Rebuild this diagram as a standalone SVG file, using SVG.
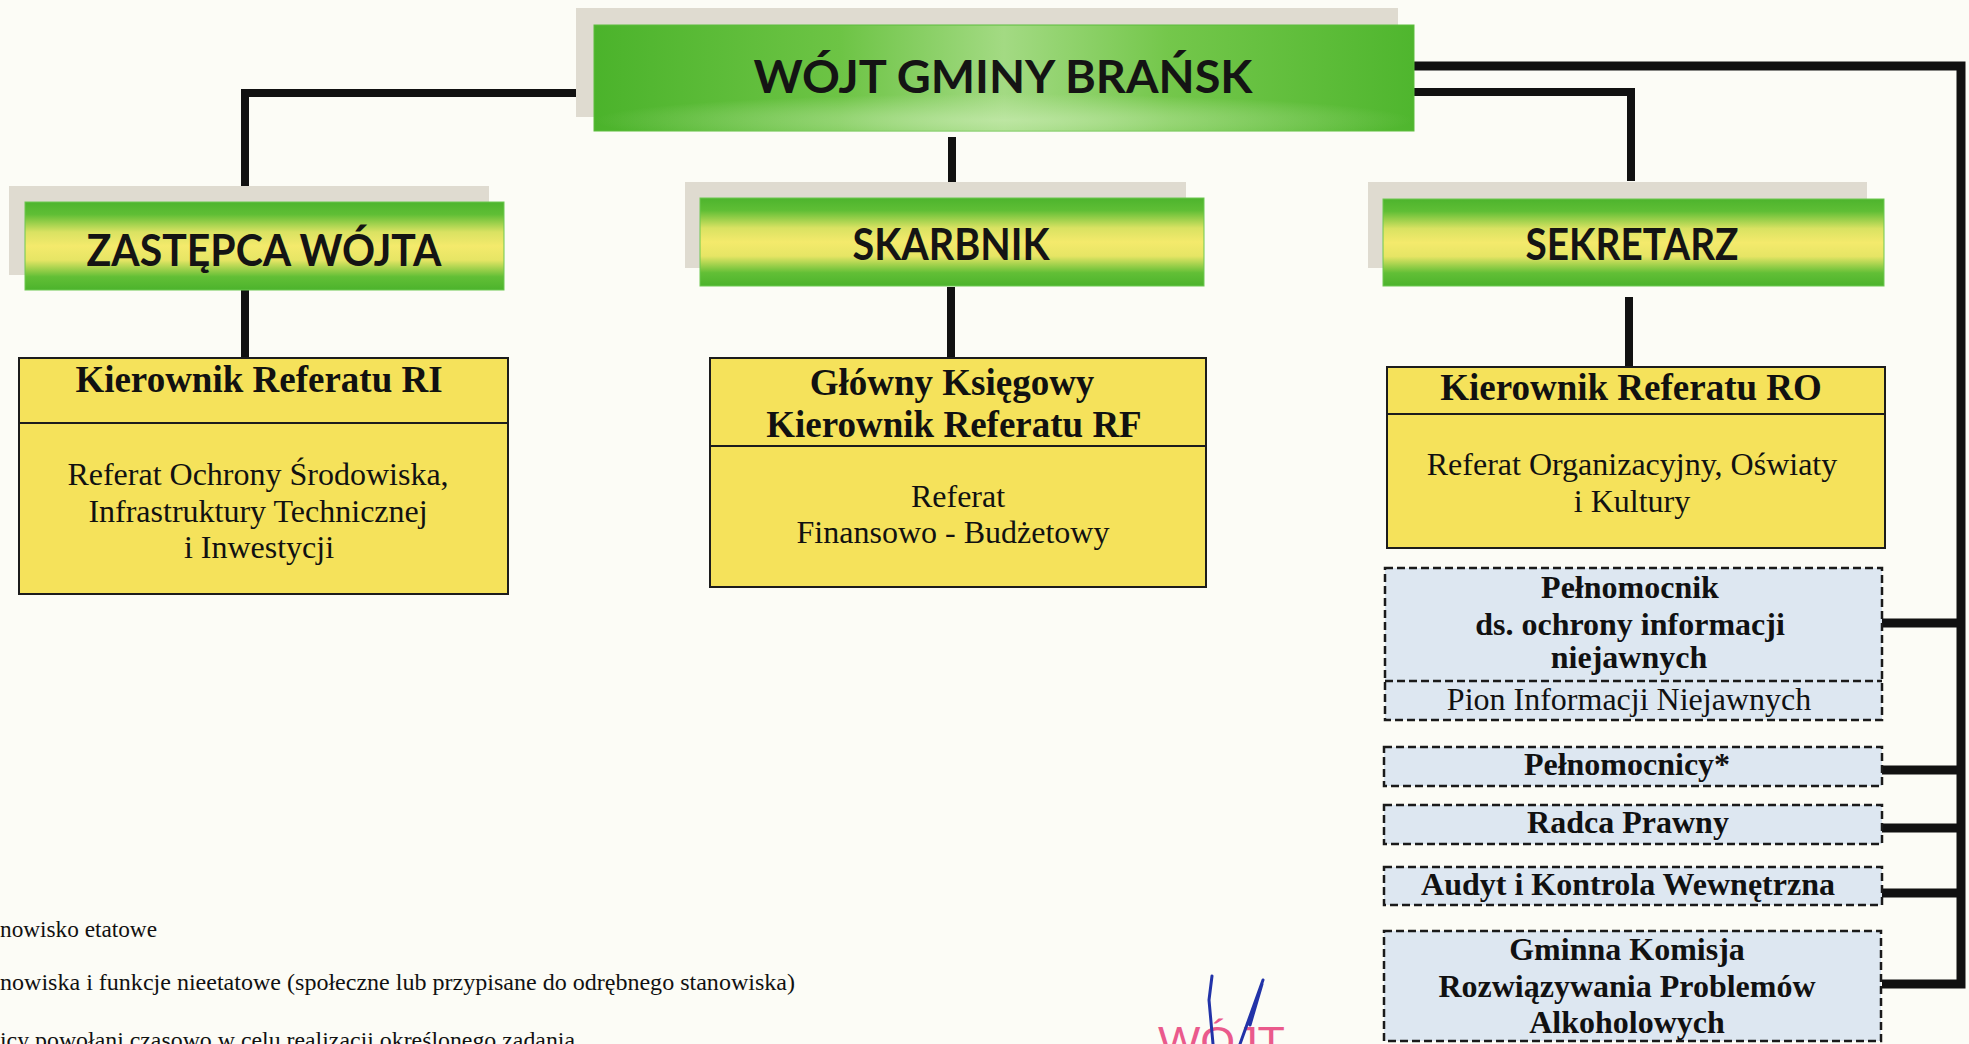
<svg xmlns="http://www.w3.org/2000/svg" width="1969" height="1044" viewBox="0 0 1969 1044">
<defs>
<linearGradient id="gTitle" x1="0" y1="0" x2="0" y2="1">
<stop offset="0" stop-color="#4db42d"/>
<stop offset="0.14" stop-color="#5fbe35"/>
<stop offset="0.34" stop-color="#d9e262"/>
<stop offset="0.5" stop-color="#f4ea6c"/>
<stop offset="0.66" stop-color="#e6e565"/>
<stop offset="0.85" stop-color="#62bf36"/>
<stop offset="1" stop-color="#4cb32c"/>
</linearGradient>
<linearGradient id="gWojt" x1="0" y1="0" x2="1" y2="0">
<stop offset="0" stop-color="#4bb32b"/>
<stop offset="0.3" stop-color="#6dc445"/>
<stop offset="0.5" stop-color="#a3da83"/>
<stop offset="0.7" stop-color="#74c74b"/>
<stop offset="1" stop-color="#4fb62e"/>
</linearGradient>
<radialGradient id="gWojtGlow" cx="0.5" cy="0.9" r="0.5" gradientTransform="translate(0 0.45) scale(1 0.5)">
<stop offset="0" stop-color="#c8ebb0" stop-opacity="0.7"/>
<stop offset="1" stop-color="#c8ebb0" stop-opacity="0"/>
</radialGradient>
</defs>
<style>
.bg{fill:#fcfcf6}
.shadow{fill:#dfdbd0}
.title{fill:url(#gTitle);stroke:#6cc850;stroke-width:1}
.ttl{font-family:Lato,"Open Sans","DejaVu Sans",sans-serif;font-weight:700;fill:#141414;text-anchor:middle}
.ybox{fill:#f5e25b;stroke:#1c1c1c;stroke-width:2}
.bbox{fill:#dde7f1;stroke:#1a1a1a;stroke-width:2.5;stroke-dasharray:8 4}
.sep{stroke:#1c1c1c;stroke-width:2;fill:none}
.dsep{stroke:#1a1a1a;stroke-width:2.5;stroke-dasharray:8 4;fill:none}
.hb{font-family:"Liberation Serif","Times New Roman",serif;font-weight:700;font-size:37px;fill:#111;text-anchor:middle}
.bb{font-family:"Liberation Serif","Times New Roman",serif;font-weight:700;font-size:32px;fill:#111;text-anchor:middle}
.rg{font-family:"Liberation Serif","Times New Roman",serif;font-size:32px;fill:#111;text-anchor:middle}
.lg{font-family:"Liberation Serif","Times New Roman",serif;font-size:24px;fill:#111}
.conn path{fill:none;stroke:#111;stroke-width:8;stroke-linejoin:miter;stroke-linecap:butt}
.conn path.bus{stroke-width:9}
</style>
<rect class="bg" x="0" y="0" width="1969" height="1044"/>

<g class="conn" id="connectors">
<path d="M 576 93 H 245 V 186"/>
<path d="M 952 137 V 182"/>
<path d="M 1414 92 H 1631 V 181"/>
<path class="bus" d="M 1414 66 H 1961 V 984 H 1882"/>
<path d="M 245 290 V 358"/>
<path d="M 951 287 V 358"/>
<path d="M 1629 297 V 370"/>
<path class="bus" d="M 1882 623 H 1961"/>
<path class="bus" d="M 1882 770 H 1961"/>
<path class="bus" d="M 1882 828 H 1961"/>
<path class="bus" d="M 1882 893 H 1961"/>
</g>

<g id="wojt">
<rect class="shadow" x="576" y="8" width="822" height="109"/>
<rect x="594" y="25" width="820" height="106" fill="url(#gWojt)" stroke="#5cbd3c" stroke-width="1"/>
<rect x="594" y="25" width="820" height="106" fill="url(#gWojtGlow)"/>
<text class="ttl" x="1003" y="93" font-size="45" textLength="499" lengthAdjust="spacingAndGlyphs">WÓJT GMINY BRAŃSK</text>
</g>

<g id="zastepca">
<rect class="shadow" x="9" y="186" width="480" height="89"/>
<rect class="title" x="25" y="202" width="479" height="88"/>
<text class="ttl" x="264" y="266" font-size="43" textLength="355" lengthAdjust="spacingAndGlyphs">ZASTĘPCA WÓJTA</text>
</g>

<g id="skarbnik">
<rect class="shadow" x="685" y="182" width="501" height="86"/>
<rect class="title" x="700" y="198" width="504" height="88"/>
<text class="ttl" x="951" y="260" font-size="43" textLength="197" lengthAdjust="spacingAndGlyphs">SKARBNIK</text>
</g>

<g id="sekretarz">
<rect class="shadow" x="1368" y="182" width="499" height="86"/>
<rect class="title" x="1383" y="199" width="501" height="87"/>
<text class="ttl" x="1632" y="260" font-size="43" textLength="213" lengthAdjust="spacingAndGlyphs">SEKRETARZ</text>
</g>

<g id="referat-ri">
<rect class="ybox" x="19" y="358" width="489" height="236"/>
<line class="sep" x1="19" y1="423" x2="508" y2="423"/>
<text class="hb" x="259" y="392">Kierownik Referatu RI</text>
<text class="rg" x="258" y="485">Referat Ochrony Środowiska,</text>
<text class="rg" x="258" y="522">Infrastruktury Technicznej</text>
<text class="rg" x="259" y="558">i Inwestycji</text>
</g>

<g id="referat-rf">
<rect class="ybox" x="710" y="358" width="496" height="229"/>
<line class="sep" x1="710" y1="446" x2="1206" y2="446"/>
<text class="hb" x="952" y="395">Główny Księgowy</text>
<text class="hb" x="954" y="437">Kierownik Referatu RF</text>
<text class="rg" x="958" y="507">Referat</text>
<text class="rg" x="953" y="543">Finansowo - Budżetowy</text>
</g>

<g id="referat-ro">
<rect class="ybox" x="1387" y="367" width="498" height="181"/>
<line class="sep" x1="1387" y1="414" x2="1885" y2="414"/>
<text class="hb" x="1631" y="400">Kierownik Referatu RO</text>
<text class="rg" x="1632" y="475">Referat Organizacyjny, Oświaty</text>
<text class="rg" x="1632" y="512">i Kultury</text>
</g>

<g id="pelnomocnik-oin">
<rect class="bbox" x="1385" y="568" width="497" height="152"/>
<line class="dsep" x1="1385" y1="681" x2="1882" y2="681"/>
<text class="bb" x="1630" y="598">Pełnomocnik</text>
<text class="bb" x="1630" y="635">ds. ochrony informacji</text>
<text class="bb" x="1629" y="668">niejawnych</text>
<text class="rg" x="1629" y="710">Pion Informacji Niejawnych</text>
</g>

<g id="pelnomocnicy">
<rect class="bbox" x="1384" y="747" width="498" height="39"/>
<text class="bb" x="1627" y="775">Pełnomocnicy*</text>
</g>

<g id="radca">
<rect class="bbox" x="1384" y="805" width="498" height="39"/>
<text class="bb" x="1628" y="833">Radca Prawny</text>
</g>

<g id="audyt">
<rect class="bbox" x="1384" y="867" width="498" height="38"/>
<text class="bb" x="1628" y="895">Audyt i Kontrola Wewnętrzna</text>
</g>

<g id="gkrpa">
<rect class="bbox" x="1384" y="931" width="497" height="110"/>
<text class="bb" x="1627" y="960">Gminna Komisja</text>
<text class="bb" x="1627" y="997">Rozwiązywania Problemów</text>
<text class="bb" x="1627" y="1033">Alkoholowych</text>
</g>

<g id="legend">
<text class="lg" x="0" y="937" textLength="157" lengthAdjust="spacingAndGlyphs">nowisko etatowe</text>
<text class="lg" x="0" y="990" textLength="795" lengthAdjust="spacingAndGlyphs">nowiska i funkcje nieetatowe (społeczne lub przypisane do odrębnego stanowiska)</text>
<text class="lg" x="0" y="1048" textLength="575" lengthAdjust="spacingAndGlyphs">icy powołani czasowo w celu realizacji określonego zadania</text>
</g>

<g id="stamp">
<text x="1158" y="1056" font-family="'Liberation Sans',Arial,sans-serif" font-size="42" fill="#ea5a8c" textLength="127" lengthAdjust="spacingAndGlyphs">WÓJT</text>
<path d="M 1212 976 L 1209 1000 L 1213 1044" fill="none" stroke="#2233a8" stroke-width="3" stroke-linecap="round"/>
<path d="M 1263 980 L 1240 1044 M 1262 984 L 1250 1025" fill="none" stroke="#2233a8" stroke-width="3" stroke-linecap="round"/>
</g>
</svg>
